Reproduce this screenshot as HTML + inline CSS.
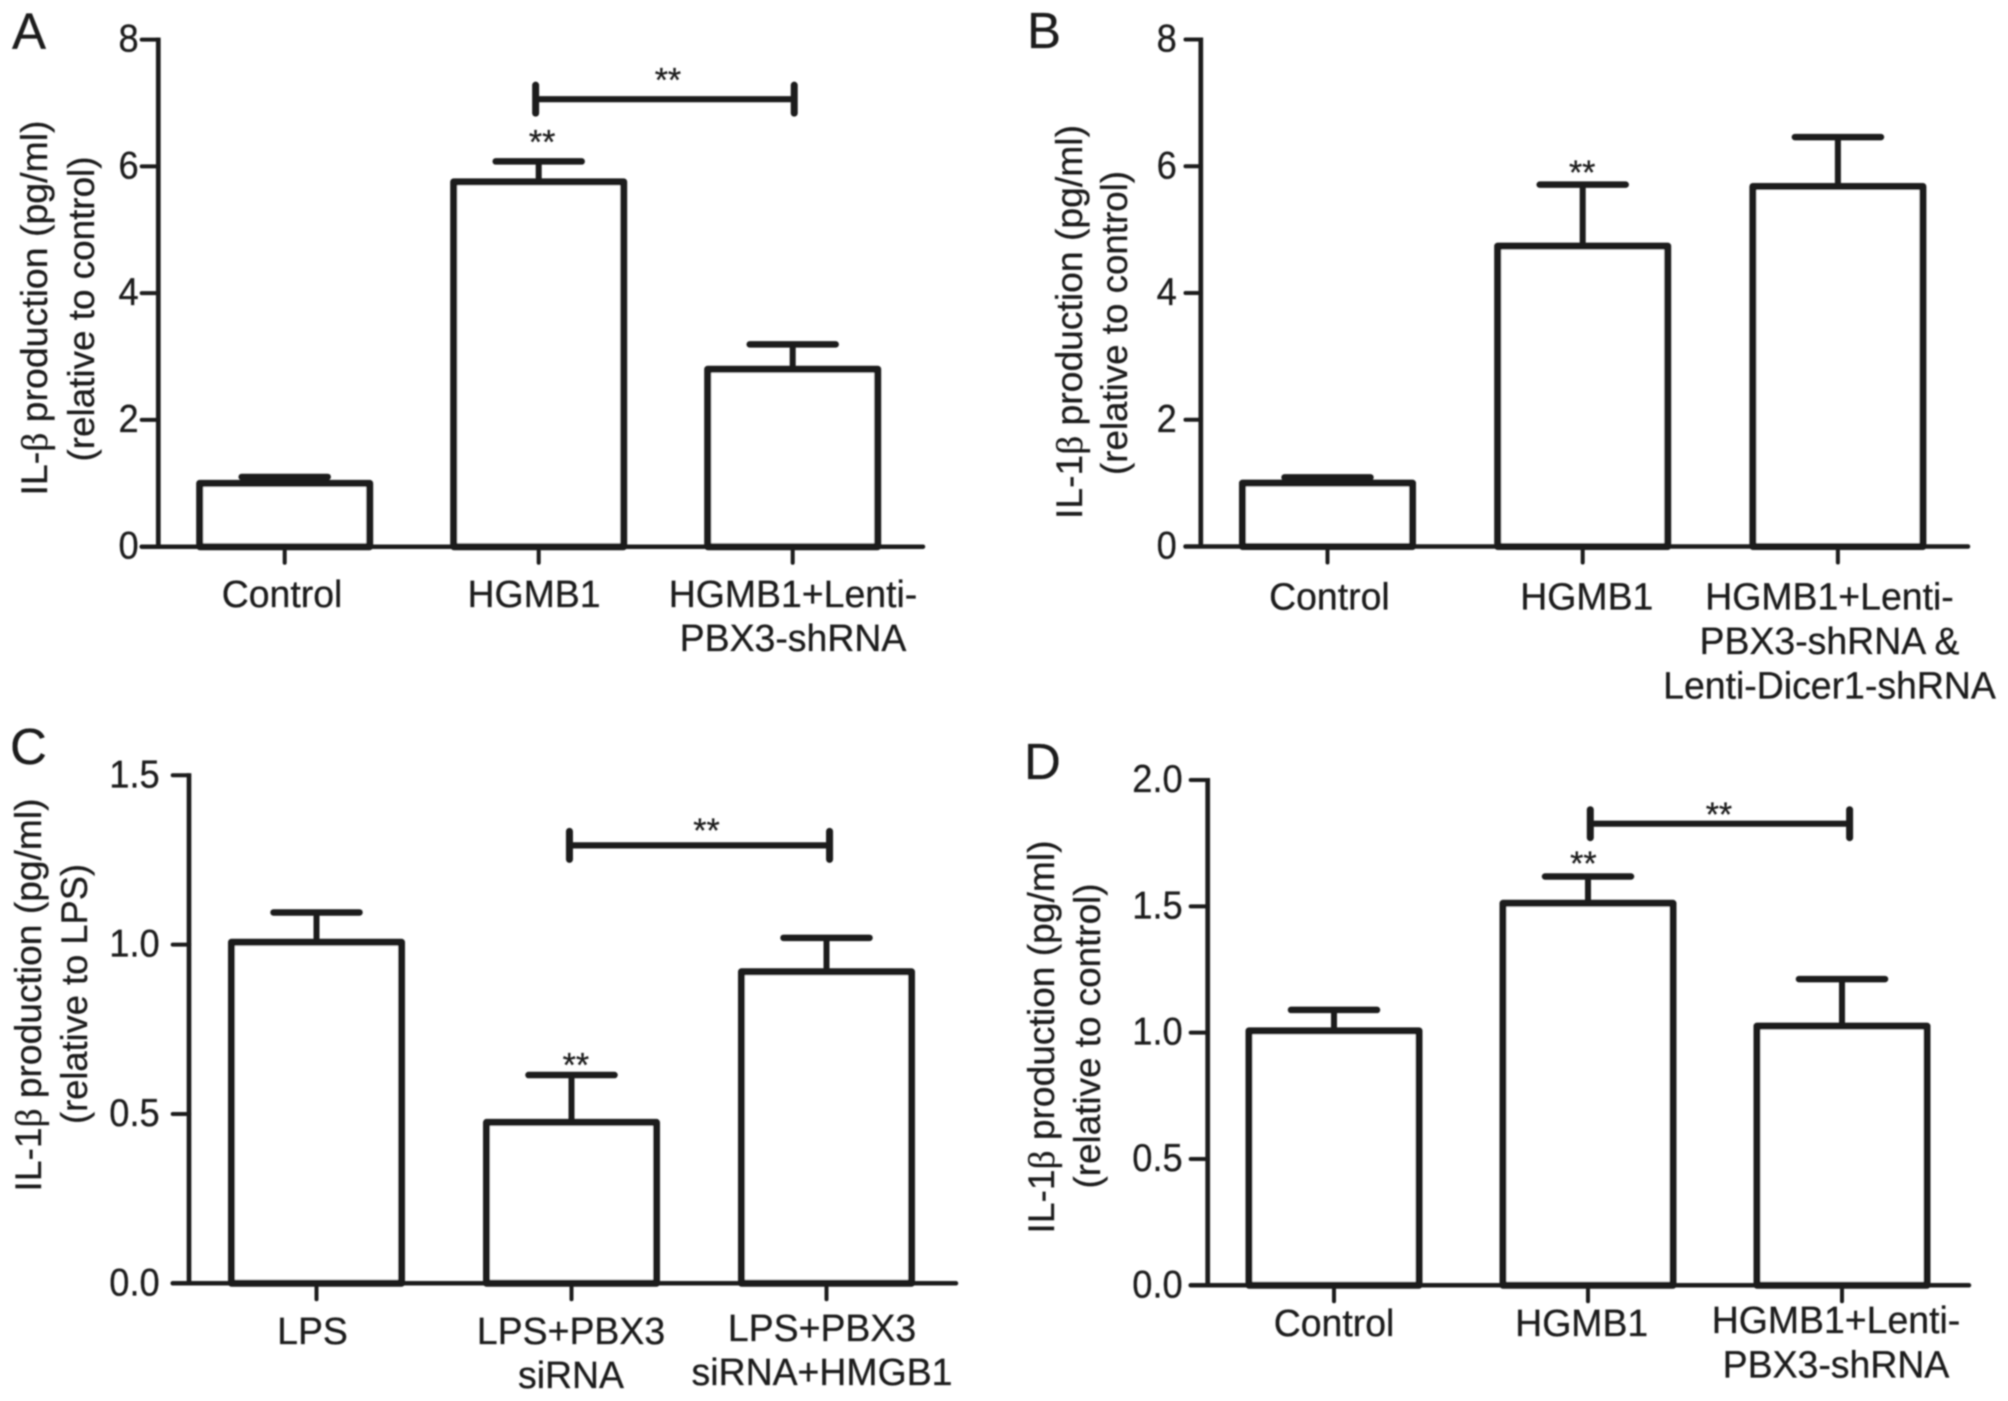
<!DOCTYPE html>
<html lang="en">
<head>
<meta charset="utf-8">
<title>Cytokine production bar charts</title>
<style>
  html, body { margin: 0; padding: 0; background: #fff; }
  #figure { display: block; width: 2008px; height: 1401px; font-family: "Liberation Sans", Arial, sans-serif; }
  #figure text { fill: #1e1e1e; stroke: #1e1e1e; stroke-width: 0.3; }
</style>
</head>
<body>
<svg id="figure" xmlns="http://www.w3.org/2000/svg" width="2008" height="1401" viewBox="0 0 2008 1401">
  <defs>
    <filter id="soften" x="0" y="0" width="100%" height="100%"><feGaussianBlur stdDeviation="0.7"/></filter>
  </defs>
  <rect width="2008" height="1401" fill="#fff"/>
  <g id="root" filter="url(#soften)"></g>
</svg>
<script>
// ---- Data ----
const categoriesA = [["Control"], ["HGMB1"], ["HGMB1+Lenti-", "PBX3-shRNA"]];
const valuesA = [1.0, 5.756, 2.8];
const errorsA = [0.1, 0.322, 0.392];
const ticksA = ["0", "2", "4", "6", "8"];
const tickValuesA = [0, 2, 4, 6, 8];
const starsA = [null, 6.46, null];
const bracketA = { from: 0.988, to: 2.006, value: 7.06, star: 7.44 };

const categoriesB = [["Control"], ["HGMB1"], ["HGMB1+Lenti-", "PBX3-shRNA &", "Lenti-Dicer1-shRNA"]];
const valuesB = [1.0, 4.74, 5.68];
const errorsB = [0.09, 0.97, 0.78];
const ticksB = ["0", "2", "4", "6", "8"];
const tickValuesB = [0, 2, 4, 6, 8];
const starsB = [null, 5.98, null];

const categoriesC = [["LPS"], ["LPS+PBX3", "siRNA"], ["LPS+PBX3", "siRNA+HMGB1"]];
const valuesC = [1.007, 0.475, 0.92];
const errorsC = [0.088, 0.14, 0.1];
const ticksC = ["0.0", "0.5", "1.0", "1.5"];
const tickValuesC = [0, 0.5, 1, 1.5];
const starsC = [null, 0.659, null];
const bracketC = { from: 0.992, to: 2.012, value: 1.293, star: 1.352 };

const categoriesD = [["Control"], ["HGMB1"], ["HGMB1+Lenti-", "PBX3-shRNA"]];
const valuesD = [1.007, 1.512, 1.026];
const errorsD = [0.083, 0.106, 0.186];
const ticksD = ["0.0", "0.5", "1.0", "1.5", "2.0"];
const tickValuesD = [0, 0.5, 1, 1.5, 2];
const starsD = [null, 1.69, null];
const bracketD = { from: 1.009, to: 2.03, value: 1.827, star: 1.884 };

// ---- Panel definitions ----
const panels = [
  { id: "a", letter: "A", letterX: 12, letterY: 49,
    categories: categoriesA, values: valuesA, errors: errorsA, ticks: ticksA, tickValues: tickValuesA, stars: starsA, bracket: bracketA,
    axisX: 158.3, tickLeft: 141.7, axisEnd: 923, yTop: 39.6, yZero: 546.7, yMax: 8,
    firstX: 284.7, stepX: 254, labelGap: 3, starDx: 3.4, bracketStarDx: 3,
    labelDx: [-2.7, -4.7, 0.3], labelBase: [607, 607, 607], lineGap: 44,
    title: [["IL-", "β", " production (pg/ml)"], ["(relative to control)"]],
    titleX: [47, 94], titleY: [308, 309], titleLen: [375, 305] },
  { id: "b", letter: "B", letterX: 1027, letterY: 48,
    categories: categoriesB, values: valuesB, errors: errorsB, ticks: ticksB, tickValues: tickValuesB, stars: starsB, bracket: null,
    axisX: 1200.8, tickLeft: 1185.5, axisEnd: 1968, yTop: 39.5, yZero: 546.5, yMax: 8,
    firstX: 1327.5, stepX: 255.2, labelGap: 8.7, starDx: -0.5, bracketStarDx: 0,
    labelDx: [1.9, 4.1, -8.4], labelBase: [609.3, 609.3, 609.3], lineGap: 44.5,
    title: [["IL-1", "β", " production (pg/ml)"], ["(relative to control)"]],
    titleX: [1082, 1127], titleY: [322, 323], titleLen: [394, 304] },
  { id: "c", letter: "C", letterX: 10, letterY: 764,
    categories: categoriesC, values: valuesC, errors: errorsC, ticks: ticksC, tickValues: tickValuesC, stars: starsC, bracket: bracketC,
    axisX: 189, tickLeft: 172.7, axisEnd: 956, yTop: 775.3, yZero: 1283.3, yMax: 1.5,
    firstX: 316.5, stepX: 255, labelGap: 13, starDx: 4.4, bracketStarDx: 7,
    labelDx: [-4, -0.5, -4.5], labelBase: [1344, 1344, 1341], lineGap: 44,
    title: [["IL-1", "β", " production (pg/ml)"], ["(relative to LPS)"]],
    titleX: [41, 87], titleY: [995, 994], titleLen: [393, 260] },
  { id: "d", letter: "D", letterX: 1024, letterY: 779,
    categories: categoriesD, values: valuesD, errors: errorsD, ticks: ticksD, tickValues: tickValuesD, stars: starsD, bracket: bracketD,
    axisX: 1207.7, tickLeft: 1190.7, axisEnd: 1969, yTop: 780, yZero: 1285.3, yMax: 2,
    firstX: 1334, stepX: 254, labelGap: 8, starDx: -4.6, bracketStarDx: -1,
    labelDx: [0, -6.3, -6], labelBase: [1336, 1336, 1333], lineGap: 44.5,
    title: [["IL-1", "β", " production (pg/ml)"], ["(relative to control)"]],
    titleX: [1054, 1100], titleY: [1037, 1036], titleLen: [393, 305] }
];

// ---- Drawing ----
const SVG_NS = "http://www.w3.org/2000/svg";
const INK = "#1a1a1a";
const BAR_WIDTH = 170;
const CAP_WIDTH = 86;
const LABEL_SQUEEZE = 0.985;
const TICK_SQUEEZE = 0.93;

function make(parent, tag, attrs) {
  const el = document.createElementNS(SVG_NS, tag);
  for (const k in attrs) el.setAttribute(k, attrs[k]);
  parent.appendChild(el);
  return el;
}
function slug(s) {
  return s.toLowerCase().replace(/[^a-z0-9]+/g, "-").replace(/^-|-$/g, "");
}
function line(parent, x1, y1, x2, y2, width, cap) {
  return make(parent, "line", { x1: x1, y1: y1, x2: x2, y2: y2, stroke: INK, "stroke-width": width, "stroke-linecap": cap || "butt" });
}
function squeezed(parent, x, y, anchor, size, squeeze, content) {
  const t = make(parent, "text", { x: 0, y: 0, "text-anchor": anchor, "font-size": size,
    transform: "translate(" + x + " " + y + ") scale(" + squeeze + " 1)" });
  t.textContent = content;
  return t;
}
function drawStars(parent, x, yCenter, name) {
  const t = make(parent, "text", { x: x, y: yCenter + 16.5, "text-anchor": "middle", "font-size": 34 });
  t.textContent = "**";
  
  
}

function drawPanel(p) {
  const root = document.getElementById("root");
  const g = make(root, "g", {});
  
  

  const yScale = function (v) { return p.yZero - (v / p.yMax) * (p.yZero - p.yTop); };
  const xScale = function (i) { return p.firstX + i * p.stepX; };

  const letter = make(g, "text", { x: p.letterX, y: p.letterY, "font-size": 51 });
  letter.textContent = p.letter;
  
  

  // y-axis title (two rotated lines)
  p.title.forEach(function (parts, li) {
    const x = p.titleX[li], y = p.titleY[li];
    const t = make(g, "text", { x: x, y: y, "text-anchor": "middle", "font-size": 37,
      transform: "rotate(-90 " + x + " " + y + ")", textLength: p.titleLen[li], lengthAdjust: "spacingAndGlyphs" });
    parts.forEach(function (part) {
      const s = make(t, "tspan", part === "β" ? { "font-family": '"Liberation Serif", serif' } : {});
      s.textContent = part;
    });
    
    
  });

  // bars and error bars
  p.values.forEach(function (v, i) {
    const cx = xScale(i);
    const top = yScale(v);
    const capY = yScale(v + p.errors[i]);
    const barName = 'panel-' + p.id + '-bar-' + slug(p.categories[i].join(" "));
    const stem = line(g, cx, top, cx, capY, 6);
    
    
    const cap = line(g, cx - CAP_WIDTH / 2, capY, cx + CAP_WIDTH / 2, capY, 6.5, "round");
    
    
    const bar = make(g, "rect", { x: cx - BAR_WIDTH / 2, y: top, width: BAR_WIDTH, height: p.yZero - top,
      fill: "#fff", stroke: INK, "stroke-width": 7, "stroke-linejoin": "round" });
    
    
    if (p.stars[i] !== null) {
      drawStars(g, cx + p.starDx, yScale(p.stars[i]), barName + '-significance');
    }
  });

  // axes
  const yAxis = line(g, p.axisX, p.yTop - 2, p.axisX, p.yZero + 2, 4.7);
  
  
  const xAxis = line(g, p.tickLeft, p.yZero, p.axisEnd, p.yZero, 4.5, "round");
  
  

  // y ticks
  p.tickValues.forEach(function (v, i) {
    const y = yScale(v);
    const tick = line(g, p.tickLeft, y, p.axisX, y, 4, "round");
    
    
    const t = squeezed(g, p.tickLeft - p.labelGap, y + 12, "end", 39, TICK_SQUEEZE, p.ticks[i]);
    
    
  });

  // x ticks and category labels
  p.categories.forEach(function (lines, i) {
    const cx = xScale(i);
    const tick = line(g, cx, p.yZero, cx, p.yZero + 16, 4, "round");
    
    
    lines.forEach(function (text, li) {
      const t = squeezed(g, cx + p.labelDx[i], p.labelBase[i] + li * p.lineGap, "middle", 38, LABEL_SQUEEZE, text);
      
      
    });
  });

  // comparison bracket
  if (p.bracket) {
    const b = p.bracket;
    const x1 = xScale(b.from), x2 = xScale(b.to), y = yScale(b.value);
    const bar = line(g, x1, y, x2, y, 6.2);
    
    
    const left = line(g, x1, y - 14, x1, y + 14, 7, "round");
    
    
    const right = line(g, x2, y - 14, x2, y + 14, 7, "round");
    
    
    drawStars(g, (x1 + x2) / 2 + p.bracketStarDx, yScale(b.star), 'panel-' + p.id + '-bracket-significance');
  }
}

panels.forEach(drawPanel);
</script>
</body>
</html>
